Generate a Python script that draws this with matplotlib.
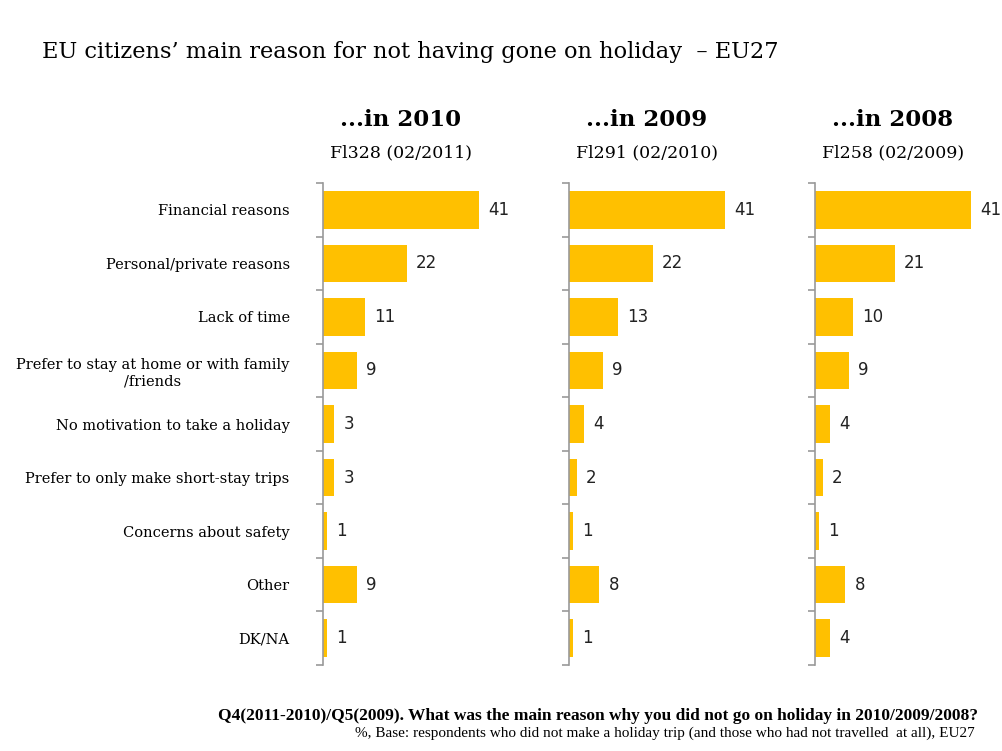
import matplotlib.pyplot as plt

# Data
categories = [
    "Financial reasons",
    "Personal/private reasons",
    "Lack of time",
    "Prefer to stay at home or with family\n/friends",
    "No motivation to take a holiday",
    "Prefer to only make short-stay trips",
    "Concerns about safety",
    "Other",
    "DK/NA",
]
values_2010 = [41, 22, 11, 9, 3, 3, 1, 9, 1]
values_2009 = [41, 22, 13, 9, 4, 2, 1, 8, 1]
values_2008 = [41, 21, 10, 9, 4, 2, 1, 8, 4]
panel_titles = ["...in 2010", "...in 2009", "...in 2008"]
panel_subtitles = ["Fl328 (02/2011)", "Fl291 (02/2010)", "Fl258 (02/2009)"]

bar_color = "#FFC000"
serif = "DejaVu Serif"

fig = plt.figure(figsize=(10.02, 7.51), dpi=100)

lefts = [0.3224, 0.5679, 0.8134]
bottom, height, width = 0.1145, 0.6418, 0.2315
y = list(range(len(categories)))

for i, vals in enumerate([values_2010, values_2009, values_2008]):
    ax = fig.add_axes([lefts[i], bottom, width, height])
    ax.barh(y, vals, height=0.7, color=bar_color)
    ax.set_xlim(0, 61)
    ax.set_ylim(len(categories) - 0.5, -0.5)
    for s in ["top", "right", "bottom"]:
        ax.spines[s].set_visible(False)
    ax.spines["left"].set_color("#999999")
    ax.spines["left"].set_linewidth(1.2)
    ax.set_xticks([])
    ax.set_yticks([k - 0.5 for k in range(len(categories) + 1)], minor=True)
    ax.tick_params(axis="y", which="minor", length=5, color="#999999", width=1.2)
    if i == 0:
        ax.set_yticks(y)
        ax.set_yticklabels(categories, fontsize=10.5, family=serif)
        ax.tick_params(axis="y", which="major", length=0, pad=24)
        for lab in ax.get_yticklabels():
            lab.set_multialignment("center")
    else:
        ax.set_yticks([])
    for yy, v in zip(y, vals):
        ax.annotate(str(v), (v, yy), xytext=(6.5, 0), textcoords="offset points",
                    va="center", ha="left", fontsize=12, family="DejaVu Sans",
                    color="#222222", annotation_clip=False)
    cx = lefts[i] + 78 / 1002
    fig.text(cx, 0.840, panel_titles[i], ha="center", va="center",
             fontsize=16.5, fontweight="bold", family=serif)
    fig.text(cx, 0.797, panel_subtitles[i], ha="center", va="center",
             fontsize=12.5, family=serif)

fig.text(0.042, 0.931, "EU citizens\u2019 main reason for not having gone on holiday  \u2013 EU27",
         ha="left", va="center", fontsize=16.2, family=serif)

fig.text(0.976, 0.047,
         "Q4(2011-2010)/Q5(2009). What was the main reason why you did not go on holiday in 2010/2009/2008?",
         ha="right", va="center", fontsize=12.5, fontweight="bold", family="Liberation Serif")
fig.text(0.973, 0.023,
         "%, Base: respondents who did not make a holiday trip (and those who had not travelled  at all), EU27",
         ha="right", va="center", fontsize=11, family="Liberation Serif")

plt.savefig("out.png", dpi=100)
